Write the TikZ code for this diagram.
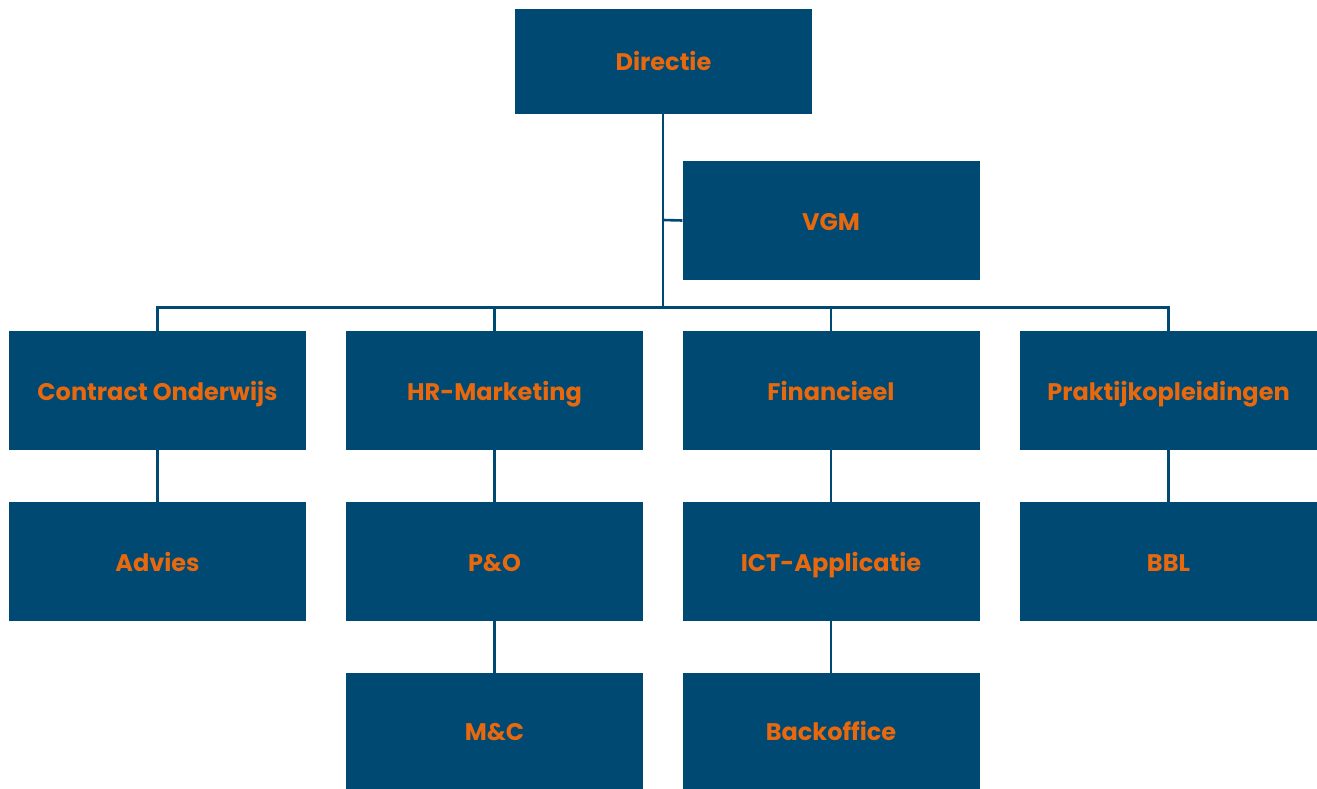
\documentclass[tikz,border=0pt]{standalone}
\usepackage{fontspec}
\setmainfont{Poppins}[UprightFont=* Bold]
\definecolor{boxblue}{RGB}{0,73,114}
\definecolor{labelorange}{RGB}{232,104,14}
\begin{document}
\begin{tikzpicture}[x=1pt,y=-1pt,
  unit/.style={fill=boxblue, draw=none, minimum width=297pt, minimum height=119pt,
    inner sep=0pt, text=labelorange, font=\fontsize{24}{28}\selectfont,
    text height=19pt, text depth=0pt},
  link/.style={draw=boxblue, line width=2.6pt}]
\useasboundingbox (0,0) rectangle (1317,789);
% top level
\node[unit, minimum height=105pt] (dir) at (663.5,61.5) {Directie};
\node[unit] (vgm) at (831,220.5) {VGM};
% departments
\node[unit] (co) at (157.5,390.5) {Contract Onderwijs};
\node[unit] (hr) at (494.5,390.5) {HR-Marketing};
\node[unit] (fin) at (831,390.5) {Financieel};
\node[unit] (pr) at (1168.5,390.5) {Praktijkopleidingen};
% second row
\node[unit] (adv) at (157.5,561.5) {Advies};
\node[unit] (po) at (494.5,561.5) {P\&O};
\node[unit] (ict) at (831,561.5) {ICT-Applicatie};
\node[unit] (bbl) at (1168.5,561.5) {BBL};
% third row
\node[unit, minimum height=116pt] (mc) at (494.5,731) {M\&C};
\node[unit, minimum height=116pt] (bo) at (831,731) {Backoffice};
% connectors
\coordinate (bus) at (663,307.5);
\draw[link] (dir.south) ++(-0.5,0) -- (bus);
\draw[link] (663,220) -- (vgm.west);
\draw[link] (co.north) |- (bus) -| (pr.north);
\draw[link] (hr.north) -- (hr.north |- bus);
\draw[link] (fin.north) -- (fin.north |- bus);
\draw[link] (co) -- (adv);
\draw[link] (hr) -- (po);
\draw[link] (po) -- (mc);
\draw[link] (fin) -- (ict);
\draw[link] (ict) -- (bo);
\draw[link] (pr) -- (bbl);
\end{tikzpicture}
\end{document}
